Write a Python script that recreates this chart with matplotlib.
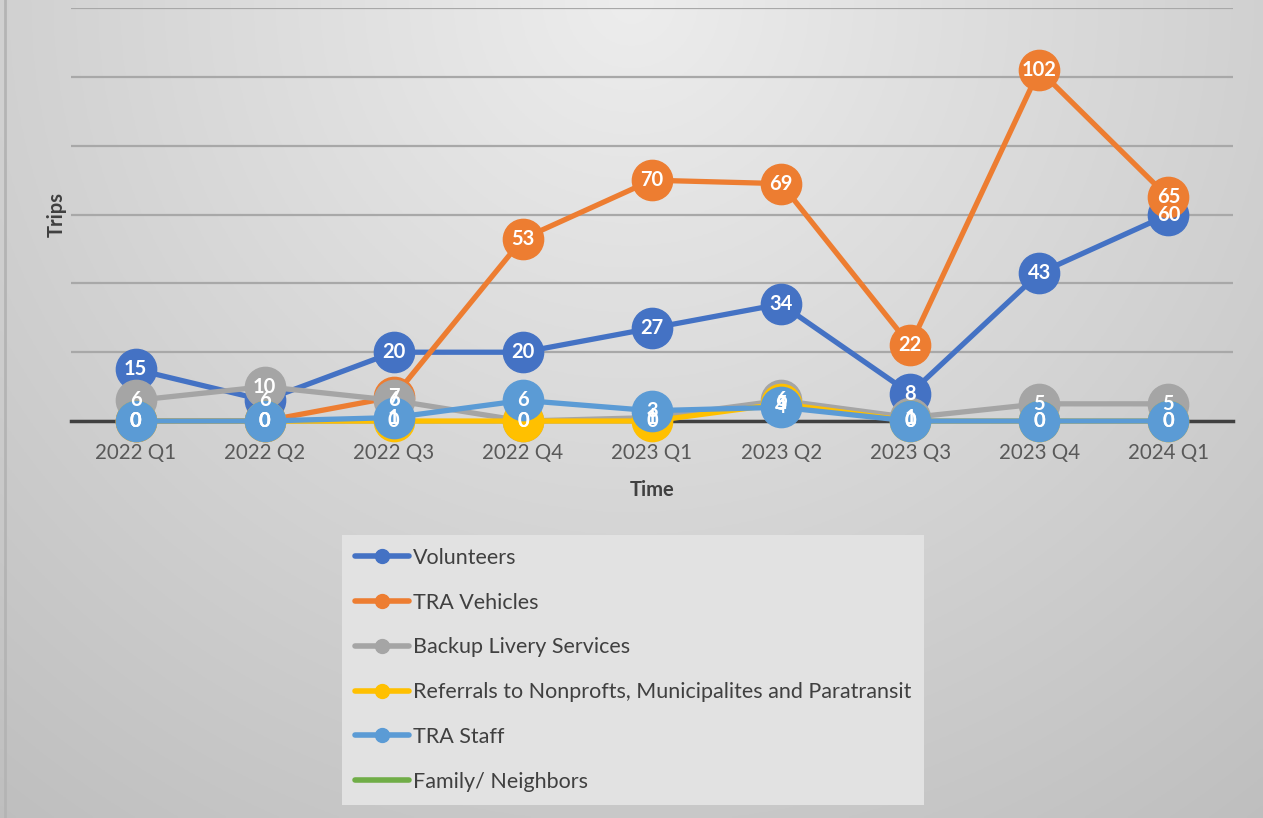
import numpy as np
import matplotlib
matplotlib.use('Agg')
from matplotlib import pyplot as plt
from matplotlib.lines import Line2D

plt.rcParams['font.family'] = ['Lato', 'DejaVu Sans']

# données
quarters = ['2022 Q1', '2022 Q2', '2022 Q3', '2022 Q4', '2023 Q1',
            '2023 Q2', '2023 Q3', '2023 Q4', '2024 Q1']
volunteers = [15, 6, 20, 20, 27, 34, 8, 43, 60]
tra_vehicles = [0, 0, 7, 53, 70, 69, 22, 102, 65]
backup_livery = [6, 10, 6, 0, 1, 6, 1, 5, 5]
referrals = [0, 0, 0, 0, 0, 5, 0, 0, 0]
tra_staff = [0, 0, 1, 6, 3, 4, 0, 0, 0]
family = [np.nan] * 9

series = [
    ('Volunteers', volunteers, '#4472C4', True),
    ('TRA Vehicles', tra_vehicles, '#ED7D31', True),
    ('Backup Livery Services', backup_livery, '#A5A5A5', True),
    ('Referrals to Nonprofts, Municipalites and Paratransit', referrals, '#FFC000', True),
    ('TRA Staff', tra_staff, '#5B9BD5', True),
    ('Family/ Neighbors', family, '#70AD47', False),
]

W, H = 1263, 818
fig = plt.figure(figsize=(W / 100, H / 100), dpi=100)

# fond dégradé (radial depuis le haut au centre)
bg = fig.add_axes([0, 0, 1, 1], zorder=-10)
px, py = np.meshgrid(np.arange(0, W, 3), np.arange(0, H, 3))
dist = np.sqrt((px - 630) ** 2 + (py - 0) ** 2)
g = np.clip(237 - 0.045 * dist, 180, 240) / 255
img = np.dstack([g, g, g])
bg.imshow(img, extent=[0, 1, 0, 1], aspect='auto', origin='upper')
bg.axvline(0.004, color='#b4b4b4', lw=2)
bg.set_xlim(0, 1)
bg.set_ylim(0, 1)
bg.axis('off')

ax = fig.add_axes([0.0562, 0.4853, 0.9200, 0.5047])
ax.set_facecolor('none')
x = np.arange(len(quarters))

for i, (name, vals, col, mk) in enumerate(series):
    if mk:
        ax.plot(x, vals, color=col, lw=3.8, marker='o', markersize=29,
                markeredgecolor=col, zorder=3 + i, solid_capstyle='round',
                clip_on=False)
    else:
        ax.plot(x, vals, color=col, lw=3.8, zorder=3 + i, clip_on=False)

# étiquettes au centre des marqueurs
for name, vals, col, mk in series:
    if not mk:
        continue
    for xi, v in zip(x, vals):
        ax.text(xi, v, str(v), ha='center', va='center', color='white',
                fontsize=14.5, fontweight='bold', zorder=20)

ax.set_xlim(-0.5, len(quarters) - 0.5)
ax.set_ylim(0, 120)
ax.set_yticks(np.arange(0, 121, 20))
ax.set_yticklabels([])
ax.yaxis.grid(True, color='#a8a8a8', lw=1.6)
ax.set_axisbelow(True)
ax.tick_params(axis='y', length=0)
ax.set_xticks(x)
ax.set_xticklabels(quarters, fontsize=14.8, color='#595959')
ax.tick_params(axis='x', length=0, pad=16)
for s in ['top', 'right', 'left']:
    ax.spines[s].set_visible(False)
ax.spines['bottom'].set_color('#404040')
ax.spines['bottom'].set_linewidth(2.5)
ax.spines['bottom'].set_zorder(2.5)

ax.set_xlabel('Time', fontsize=14.5, fontweight='bold', color='#404040', labelpad=12)
ax.set_ylabel('Trips', fontsize=14.5, fontweight='bold', color='#404040')
ax.yaxis.set_label_coords(-0.004, 0.5)

handles = []
for name, vals, col, mk in series:
    handles.append(Line2D([], [], color=col, lw=4, marker='o' if mk else None,
                          markersize=10, solid_capstyle='round'))
leg = fig.legend(handles, [s[0] for s in series], loc='upper left',
                 bbox_to_anchor=(0.2708, 0.346), fontsize=15.5, frameon=True,
                 fancybox=False, framealpha=1, handlelength=2.5,
                 handletextpad=0.2, labelspacing=1.15, borderpad=0.6,
                 borderaxespad=0)
leg.get_frame().set_facecolor('#e2e2e2')
leg.get_frame().set_edgecolor('none')
for t in leg.get_texts():
    t.set_color('#404040')

plt.savefig('out.png', dpi=100)
